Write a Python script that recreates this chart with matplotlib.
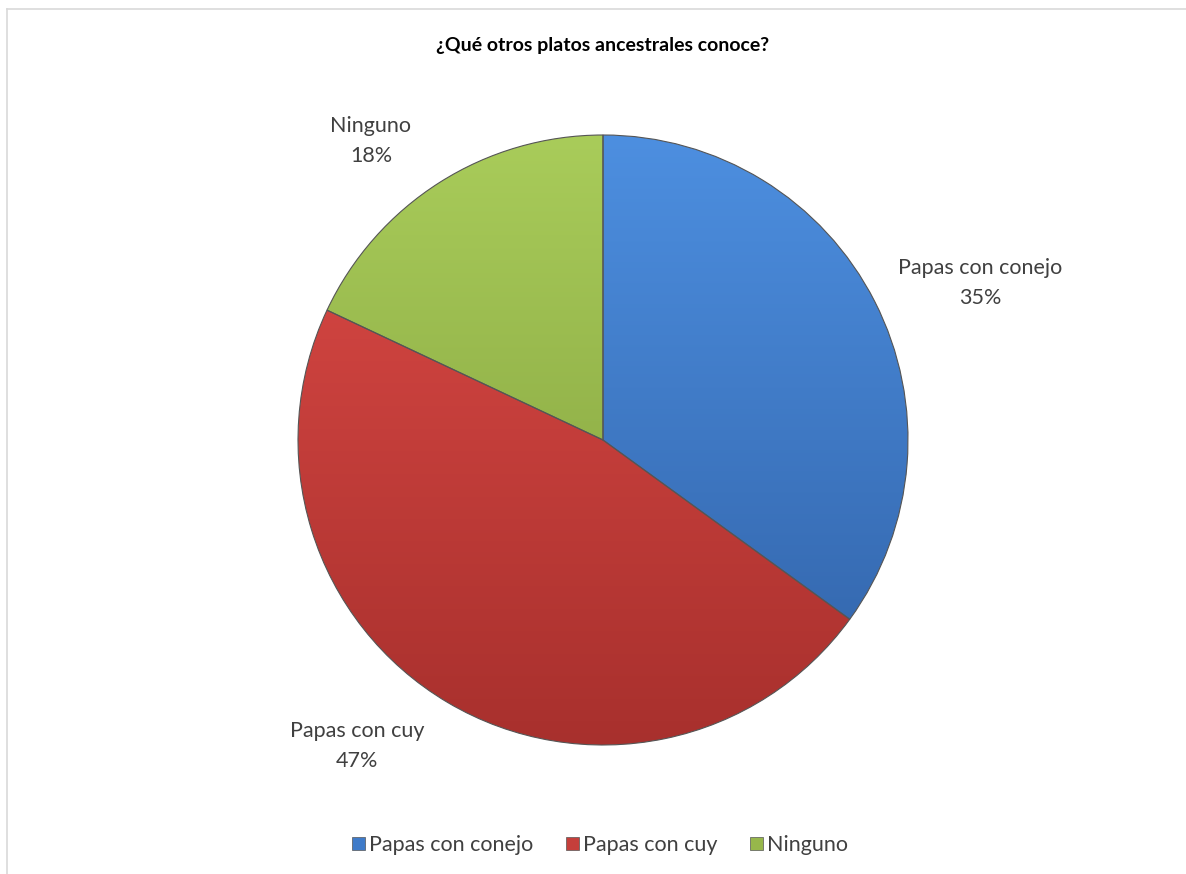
import numpy as np
import matplotlib
matplotlib.use("Agg")
import matplotlib.pyplot as plt
from matplotlib.patches import Patch
from matplotlib.colors import LinearSegmentedColormap

plt.rcParams['font.family'] = ['Lato', 'DejaVu Sans']

# data
labels = ["Papas con conejo", "Papas con cuy", "Ninguno"]
values = [35, 47, 18]
colors = ["#3F7BC9", "#C53F3B", "#97B74B"]
light = ["#4D8FE0", "#DE4B47", "#A9CC5A"]
dark = ["#3061A6", "#A8302D", "#7E9B3A"]
title = "¿Qué otros platos ancestrales conoce?"

W, H = 1186, 874
fig = plt.figure(figsize=(W / 100, H / 100), dpi=100)
ax = fig.add_axes([0, 0, 1, 1])

cx, cy, r = 603, H - 440, 305
wedges, _ = ax.pie(values, startangle=90, counterclock=False, colors=colors,
                   center=(cx, cy), radius=r, frame=True,
                   wedgeprops=dict(edgecolor="#555555", linewidth=0.8))
ax.set_xlim(0, W)
ax.set_ylim(0, H)
ax.set_aspect("equal")
ax.axis("off")

# soft vertical gradient inside each slice
grad = np.linspace(0, 1, 256).reshape(-1, 1)
for w, lc, dc in zip(wedges, light, dark):
    cmap = LinearSegmentedColormap.from_list("g", [dc, lc])
    im = ax.imshow(grad, cmap=cmap, extent=(cx - r, cx + r, cy - r, cy + r),
                   origin="lower", aspect="auto", zorder=w.get_zorder() + 0.1)
    im.set_clip_path(w)
    w.set_zorder(w.get_zorder() + 0.2)
    w.set_facecolor("none")

# data labels
lab_pos = [(980, 283), (357, 746), (371, 141)]
for (x, y), lab, v in zip(lab_pos, labels, values):
    ax.text(x, H - y, f"{lab}\n{v}%", ha="center", va="center", fontsize=15.5,
            color="#404040", linespacing=1.6)

ax.text(603, H - 45, title, ha="center", va="center", fontsize=14,
        fontweight="bold", color="black")

# chart border (top and left visible)
ax.plot([7, W], [H - 9, H - 9], color="#D9D9D9", lw=1.2)
ax.plot([7, 7], [H - 9, 0], color="#D9D9D9", lw=1.2)

handles = [Patch(facecolor=c, edgecolor="#555555", linewidth=0.5) for c in colors]
fig.legend(handles, labels, loc="center", bbox_to_anchor=(600 / W, 1 - 845 / H),
           ncol=3, frameon=False, fontsize=15.5, handlelength=0.6, handleheight=0.6,
           handletextpad=0.2, columnspacing=1.5, labelcolor="#404040")

fig.savefig("out.png", dpi=100, facecolor="white")
